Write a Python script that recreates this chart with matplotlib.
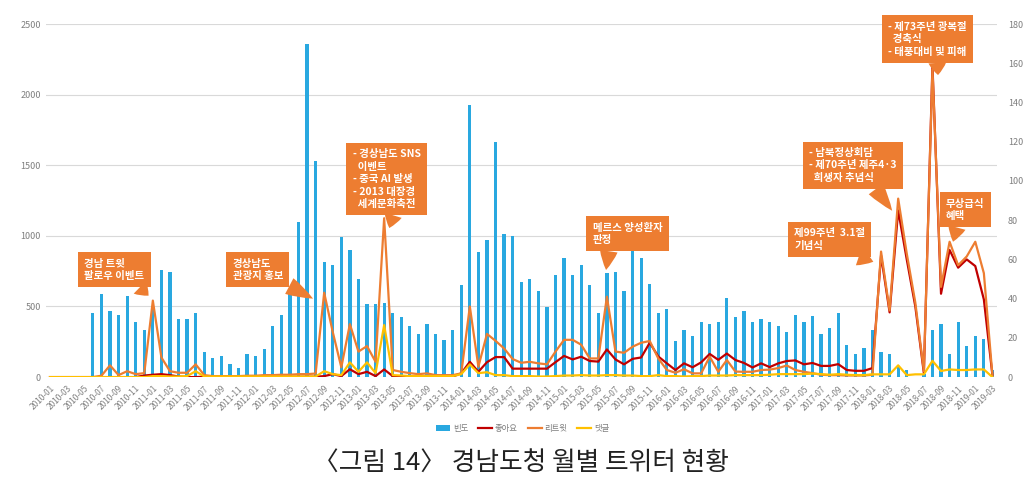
import matplotlib
matplotlib.use('Agg')
import matplotlib.pyplot as plt
import pandas as pd

plt.rcParams['font.family'] = ['Noto Sans CJK KR', 'DejaVu Sans']

# monthly categories 2010-01 .. 2019-03
months = pd.date_range('2010-01-01', '2019-03-01', freq='MS').strftime('%Y-%m').tolist()

# 빈도 (left axis)
freq = [0, 0, 0, 0, 0, 451, 590, 467, 439, 576,
        389, 333, 500, 757, 746, 411, 411, 451, 177, 132,
        149, 92, 62, 163, 149, 196, 361, 439, 592, 1097,
        2362, 1527, 814, 791, 993, 899, 696, 515, 515, 526,
        451, 427, 361, 304, 374, 302, 262, 333, 651, 1926,
        887, 970, 1664, 1012, 998, 675, 694, 609, 498, 720,
        843, 720, 791, 651, 455, 736, 745, 610, 898, 844,
        662, 453, 483, 259, 333, 290, 389, 375, 389, 557,
        425, 469, 389, 411, 389, 359, 316, 439, 389, 430,
        304, 345, 455, 227, 165, 208, 333, 177, 165, 70,
        50, 0, 25, 333, 373, 165, 389, 220, 290, 270,
        50]

# 좋아요 (right axis)
likes = [0, 0, 0, 0, 0, 0, 0, 0, 0, 0,
         0, 0.8, 1.2, 1.5, 1.0, 0.3, 0, 0, 0.2, 0.2,
         0.2, 0.2, 0.2, 0.2, 0.2, 0.2, 0.2, 0.2, 0.2, 0.2,
         0.2, 0.2, 0.5, 1.5, 0.5, 4, 1.5, 2.7, 0.5, 3.9,
         0.5, 0.3, 0.3, 0.3, 0.3, 0.3, 0.3, 0.3, 1.9, 7.8,
         2.7, 7.6, 10.2, 10.2, 4.3, 4.3, 4.3, 4.3, 4.3, 7.6,
         10.8, 9, 10.4, 8.2, 7.9, 14.1, 9, 6.5, 9.3, 10,
         17.5, 10.5, 7, 3.6, 7, 5, 7.5, 11.8, 8.8, 12,
         8.7, 7.2, 4.9, 7, 5.1, 7, 8.2, 8.5, 6.5, 7.2,
         5.7, 5.7, 6.6, 3.6, 3.2, 3.2, 4.6, 62, 33, 85,
         60, 36, 2, 159, 42.5, 64.8, 55.8, 60, 56.6, 39.6,
         1]

# 리트윗 (right axis)
retweets = [0, 0, 0, 0, 0, 0, 0.7, 6, 1, 3,
            1.5, 2, 39, 10, 3, 2.2, 2.2, 6.5, 1, 0.5,
            0.5, 0.5, 0.5, 0.7, 0.7, 1, 1, 1.2, 1.2, 1.5,
            1.5, 1.8, 43, 23, 5, 27, 13, 15.8, 7.8, 81,
            3.6, 2.7, 2, 1.5, 1.9, 1, 1, 1, 1.9, 36,
            5.3, 22, 18.5, 14.6, 9.2, 7.3, 7.8, 7, 6.5, 13,
            19, 19, 16.5, 9.5, 9.5, 41, 13, 12.4, 15.5, 17.5,
            18.4, 9.5, 3.6, 2.2, 4, 1.9, 1.9, 10.4, 2.7, 8.7,
            2.8, 2.7, 2.7, 3.6, 3.8, 4.6, 5.9, 3.6, 2.7, 2,
            1.2, 1, 1, 0.8, 0.8, 0.8, 1.2, 64, 34, 91,
            63, 38, 3, 157, 46, 69, 57, 61.5, 69, 53,
            1]

# 댓글 (right axis)
comments = [0, 0, 0, 0, 0, 0, 0, 0, 0, 0,
            0, 0, 0.5, 0.5, 0.3, 0.3, 0.5, 3, 0.3, 0.3,
            0.3, 0.3, 0.3, 0.3, 0.3, 0.3, 0.3, 0.3, 0.3, 0.3,
            0.3, 0.3, 3, 1.5, 1, 7.5, 2.7, 7.5, 2, 26.5,
            1, 0.8, 0.5, 0.5, 0.5, 0.5, 0.5, 0.5, 1.5, 6.5,
            2, 2.5, 1, 1, 0.5, 0.5, 0.5, 0.3, 0.3, 0.5,
            0.8, 0.8, 1, 0.8, 0.8, 1, 1, 0.8, 0.8, 0.5,
            0.5, 1, 0.5, 0.5, 0.3, 0.5, 0.5, 0.8, 0.8, 0.8,
            1, 1, 1, 1, 1.2, 1.5, 1.5, 1.5, 1.5, 1.8,
            1.5, 1.2, 1.5, 1.2, 1, 1, 1.4, 1.4, 1.4, 6,
            1, 1.4, 1.4, 8.3, 3.1, 3.9, 3.6, 3.6, 3.9, 3.9,
            0]

# callouts: text, tip (month index, right-axis value), box centre, tail start on box bottom
callouts = [
    ('경남 트윗\n팔로우 이벤트', (11.5, 41.5), (7.5, 54.7), 0.78),
    ('경상남도\n관광지 홍보', (30.7, 40), (24.25, 54.7), 0.85),
    ('- 경상남도 SNS\n  이벤트\n- 중국 AI 발생\n- 2013 대장경\n  세계문화축전', (39.6, 76), (39.3, 100.9), 0.65),
    ('메르스 양성환자\n판정', (64.9, 54.6), (67.4, 73.1), 0.25),
    ('제99주년  3.1절\n기념식', (96.1, 58.8), (91.0, 70.2), 0.55),
    ('- 남북정상회담\n- 제70주년 제주4·3\n  희생자 추념식', (98.3, 84.8), (93.7, 108), 0.68),
    ('- 제73주년 광복절\n  경축식\n- 태풍대비 및 피해', (103.65, 154), (102.4, 172.3), 0.62),
    ('무상급식\n혜택', (105.4, 69), (106.8, 85.2), 0.35),
]

gray = '#7F7F7F'
x = list(range(len(months)))

fig = plt.figure(figsize=(10.35, 4.91), dpi=100)
ax = fig.add_axes([0.0442, 0.232, 0.9188, 0.719])
bars = ax.bar(x, freq, width=0.38, color='#29A8E0', label='빈도', zorder=2)
ax.set_ylim(0, 2500)
ax.set_yticks(range(0, 2501, 500))
ax.set_xlim(-0.5, 110.5)
ax.yaxis.grid(True, color='#D9D9D9', lw=0.8)
ax.set_axisbelow(True)
ax.set_xticks(x[::2])
ax.set_xticklabels(months[::2], rotation=45, ha='right', rotation_mode='anchor',
                   fontsize=6, color=gray)
ax.tick_params(axis='both', length=0, labelsize=6.5, labelcolor=gray)
ax.tick_params(axis='x', pad=5, labelsize=6)

ax2 = ax.twinx()
l1, = ax2.plot(x, likes, color='#C00000', lw=1.6, label='좋아요')
l2, = ax2.plot(x, retweets, color='#ED7D31', lw=1.6, label='리트윗')
l3, = ax2.plot(x, comments, color='#FFC000', lw=1.6, label='댓글')
ax2.set_ylim(0, 180)
ax2.set_yticks(range(0, 181, 20))
ax2.tick_params(axis='y', length=0, labelsize=6.5, labelcolor=gray, pad=8)

for a in (ax, ax2):
    for s in a.spines.values():
        s.set_visible(False)

for text, tip, box, rel in callouts:
    ax2.annotate(text, xy=tip, xytext=box, textcoords='data',
                 ha='center', va='center', multialignment='left',
                 color='white', fontsize=7.5, fontweight='bold', linespacing=1.3,
                 bbox=dict(boxstyle='square,pad=0.6', fc='#ED7D31', ec='none'),
                 arrowprops=dict(arrowstyle='wedge,tail_width=1.7,shrink_factor=0.6',
                                 fc='#ED7D31', ec='none', relpos=(rel, 0.1),
                                 shrinkA=0, shrinkB=0),
                 zorder=5)

fig.legend([bars, l1, l2, l3], ['빈도', '좋아요', '리트윗', '댓글'],
           loc='center', bbox_to_anchor=(0.505, 0.128), ncol=4, frameon=False,
           fontsize=6, handlelength=1.7, handletextpad=0.3, columnspacing=1.2,
           labelcolor=gray)

fig.text(0.503, 0.057, '〈그림 14〉 경남도청 월별 트위터 현황', ha='center', va='center',
         fontsize=18.5, fontweight='light', color='#222222')

fig.savefig('out.png', dpi=100)
